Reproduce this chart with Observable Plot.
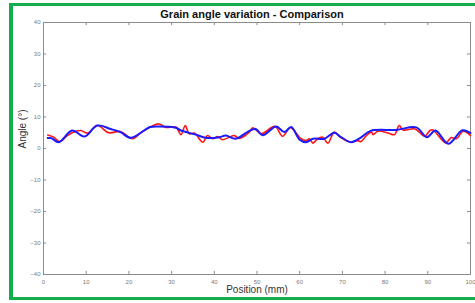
<!DOCTYPE html>
<html><head><meta charset="utf-8">
<script src="https://cdn.jsdelivr.net/npm/d3@7"></script>
<script src="https://cdn.jsdelivr.net/npm/@observablehq/plot@0.6"></script>
<style>
html,body{margin:0;padding:0;background:#fff;overflow:hidden;}
#wrap{position:relative;width:475px;height:303px;font-family:"Liberation Sans",Arial,sans-serif;overflow:hidden;}
#border{position:absolute;left:9px;top:3px;width:520px;height:297px;box-sizing:border-box;border:3px solid #13ad4c;border-left-width:4px;pointer-events:none;}
#title{height:12px;padding-top:8px;padding-left:29px;line-height:12px;font-size:11px;font-weight:bold;text-align:center;color:#111;}
#chart svg{display:block;}
</style></head>
<body>
<div id="wrap">
<div id="title">Grain angle variation - Comparison</div>
<div id="chart"></div>
<div id="border"></div>
</div>
<script>
const xTicks = [0, 10, 20, 30, 40, 50, 60, 70, 80, 90, 100];
const yTicks = [-40, -30, -20, -10, 0, 10, 20, 30, 40];

const redPos = [1, 2.4, 3.8, 5.6, 6.7, 8.7, 10.3, 12.6, 15.3, 18, 20.8, 23, 25, 27.1, 28.6, 31, 32.2, 33.2, 34.1, 35.3, 37.3, 38.4, 39.6, 40.8, 41.9, 44.7, 45.8, 48.2, 49, 51, 54.2, 56, 57.8, 60.3, 61.5, 62.3, 63.1, 64.2, 65.4, 66.6, 68.1, 69.7, 72, 73.6, 74.4, 75.6, 76.8, 77.2, 78.3, 80.7, 82.2, 83.3, 84.2, 87, 89.3, 90.5, 91.2, 94.2, 95.5, 96.7, 98.3, 100];
const redAngle = [4.3, 3.6, 2.2, 4.1, 5.0, 5.7, 4.9, 7.3, 5.0, 5.4, 3.1, 5.2, 6.8, 7.8, 6.7, 6.8, 4.4, 7.3, 4.7, 4.9, 2.0, 4.1, 3.1, 3.8, 2.8, 4.1, 3.2, 5.2, 6.6, 4.7, 7.0, 3.9, 6.6, 3.1, 2.5, 3.1, 1.7, 3.1, 3.6, 1.7, 5.2, 3.4, 2.0, 2.5, 2.2, 4.1, 5.2, 4.4, 5.5, 4.9, 4.4, 7.3, 5.9, 6.2, 3.9, 5.7, 5.9, 1.8, 3.5, 3.1, 5.5, 4.1];

const bluePos = [1, 1.8, 3.6, 6.7, 9.6, 12.6, 15.7, 18, 20.4, 25, 27.1, 31, 32.2, 35.7, 38, 41.2, 42.7, 45, 48.2, 49.7, 51.3, 54.5, 56.4, 58, 60, 61.5, 63.1, 65.8, 68.1, 69.7, 72, 74, 76.6, 82.6, 87.3, 89.8, 91.8, 94.8, 98.1, 100];
const blueAngle = [3.3, 3.3, 2.0, 5.7, 3.8, 7.3, 6.2, 5.2, 3.4, 6.8, 7.0, 6.6, 5.7, 4.4, 3.4, 3.6, 4.1, 3.1, 5.6, 6.2, 4.2, 7.0, 5.2, 6.8, 2.8, 2.0, 3.1, 3.1, 5.0, 3.6, 2.0, 3.2, 5.6, 5.9, 6.7, 3.6, 5.7, 1.5, 5.8, 4.9];

const red = redPos.map((p, i) => ({pos: p, angle: redAngle[i]}));
const blue = bluePos.map((p, i) => ({pos: p, angle: blueAngle[i]}));

const xMin = xTicks[0], xMax = xTicks[xTicks.length - 1];
const yMin = yTicks[0], yMax = yTicks[yTicks.length - 1];

const chart = Plot.plot({
  width: 475,
  height: 283,
  marginTop: 2,
  marginBottom: 29,
  marginLeft: 43,
  marginRight: 5,
  style: {fontFamily: "'Liberation Sans', Arial, sans-serif", fontSize: "10px", background: "white", color: "#333", overflow: "visible"},
  x: {domain: [xMin, xMax], nice: false},
  y: {domain: [yMin, yMax], nice: false},
  marks: [
    Plot.frame({stroke: "#8c8c8c", strokeWidth: 1}),
    Plot.ruleX(xTicks, {x: d => d, y1: yMin, y2: yMin + 1, stroke: "#8c8c8c"}),
    Plot.ruleX(xTicks, {x: d => d, y1: yMax, y2: yMax - 1, stroke: "#8c8c8c"}),
    Plot.ruleY(yTicks, {y: d => d, x1: xMin, x2: xMin + 0.7, stroke: "#8c8c8c"}),
    Plot.ruleY(yTicks, {y: d => d, x1: xMax, x2: xMax - 0.7, stroke: "#8c8c8c"}),
    Plot.axisX({ticks: xTicks, tickSize: 0, tickPadding: 5, fontSize: 6, color: "#7a7a7a", label: null}),
    Plot.axisY({ticks: yTicks, tickSize: 0, tickPadding: 3, fontSize: 6, color: "#7a7a7a", label: null}),
    Plot.text(["Angle (°)"], {frameAnchor: "left", dx: -21, rotate: -90, fontSize: 10, fill: "#333"}),
    Plot.text(["Position (mm)"], {frameAnchor: "bottom", dy: 18, fontSize: 10, fill: "#333"}),
    Plot.line(red, {x: "pos", y: "angle", stroke: "#ff1414", strokeWidth: 1.6, curve: "catmull-rom"}),
    Plot.line(blue, {x: "pos", y: "angle", stroke: "#1a1aff", strokeWidth: 2, curve: "catmull-rom"})
  ]
});
document.getElementById("chart").appendChild(chart);
</script>
</body></html>
